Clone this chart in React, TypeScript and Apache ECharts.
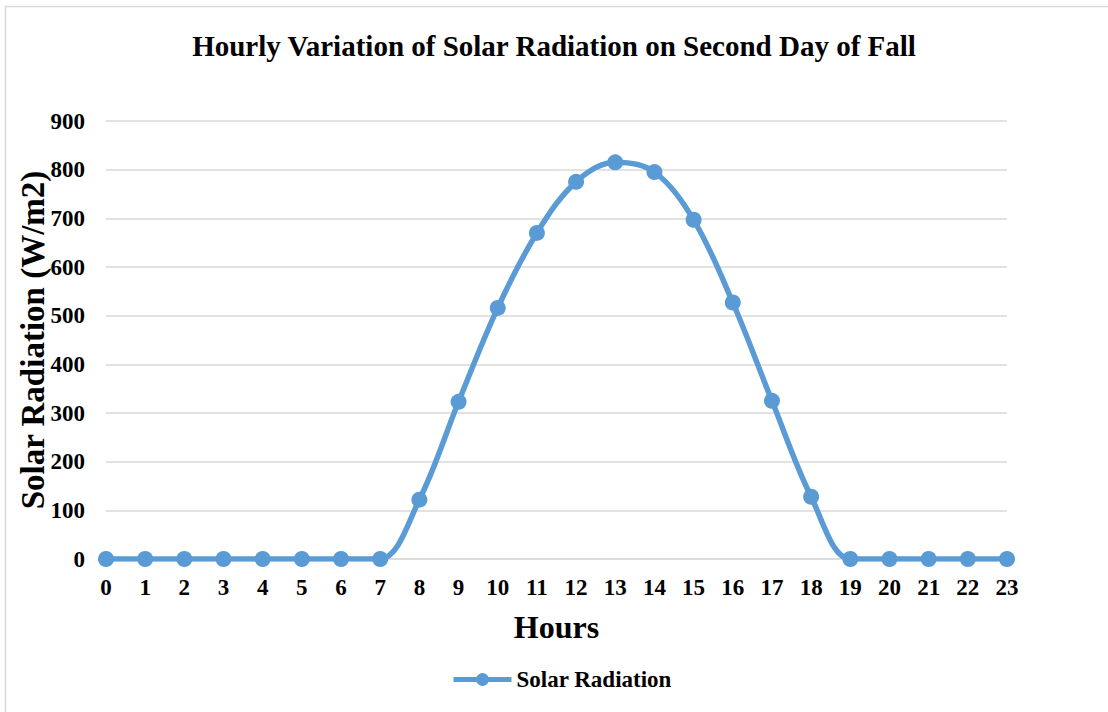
import React, { useEffect, useRef } from "react";
import * as echarts from "echarts";

const hours = ["0","1","2","3","4","5","6","7","8","9","10","11","12","13","14","15","16","17","18","19","20","21","22","23"];
const radiation = [0,0,0,0,0,0,0,0,122,323,516,670,775,815,795,697,527,325,128,0,0,0,0,0];
const yTicks = { min: 0, max: 900, interval: 100 };

const FONT = '"Liberation Serif", "Times New Roman", serif';
const BLUE = "#5B9BD5";

export default function App() {
  const ref = useRef<HTMLDivElement>(null);
  useEffect(() => {
    if (!ref.current) return;
    const chart = echarts.init(ref.current, undefined, { renderer: "svg" });
    chart.setOption({
      animation: false,
      backgroundColor: "#ffffff",
      textStyle: { fontFamily: FONT },
      title: {
        text: "Hourly Variation of Solar Radiation on Second Day of Fall",
        left: "center",
        top: 26,
        textStyle: { fontFamily: FONT, fontWeight: "bold", fontSize: 29, color: "#000" },
      },
      graphic: [
        {
          type: "rect",
          shape: { x: 5.5, y: 6.5, width: 1120, height: 730 },
          style: { fill: "none", stroke: "#d9d9d9", lineWidth: 1.5 },
          silent: true,
        },
      ],
      legend: {
        bottom: 16,
        left: 446,
        data: ["Solar Radiation"],
        itemWidth: 58,
        itemHeight: 16,
        itemGap: 4,
        itemStyle: { color: BLUE },
        lineStyle: { color: BLUE, width: 5 },
        textStyle: { fontFamily: FONT, fontWeight: "bold", fontSize: 23, color: "#000" },
      },
      grid: { left: 106, right: 101, top: 121, bottom: 712 - 559 },
      xAxis: {
        type: "category",
        data: hours,
        boundaryGap: false,
        name: "Hours",
        nameLocation: "middle",
        nameGap: 52,
        nameMoveOverlap: false,
        nameTextStyle: { fontFamily: FONT, fontWeight: "bold", fontSize: 32, color: "#000" },
        axisLine: { show: true, lineStyle: { color: "#d9d9d9", width: 1.5 } },
        axisTick: { show: false },
        axisLabel: { fontFamily: FONT, fontWeight: "bold", fontSize: 23, color: "#000", margin: 17, interval: 0 },
        splitLine: { show: false },
      },
      yAxis: {
        type: "value",
        min: yTicks.min,
        max: yTicks.max,
        interval: yTicks.interval,
        name: "Solar Radiation (W/m2)",
        nameLocation: "middle",
        nameGap: 57,
        nameMoveOverlap: false,
        nameTextStyle: { fontFamily: FONT, fontWeight: "bold", fontSize: 33, color: "#000" },
        axisLine: { show: false },
        axisTick: { show: false },
        axisLabel: { fontFamily: FONT, fontWeight: "bold", fontSize: 23, color: "#000", margin: 21 },
        splitLine: { show: true, lineStyle: { color: "#d9d9d9", width: 1.5 } },
      },
      series: [
        {
          name: "Solar Radiation",
          type: "line",
          data: radiation,
          smooth: 0.35,
          symbol: "circle",
          symbolSize: 16,
          lineStyle: { color: BLUE, width: 5.5 },
          itemStyle: { color: BLUE },
        },
      ],
    });
    return () => chart.dispose();
  }, []);
  return (
    <div
      ref={ref}
      style={{ position: "fixed", left: 0, top: 0, width: 1108, height: 712 }}
    />
  );
}
